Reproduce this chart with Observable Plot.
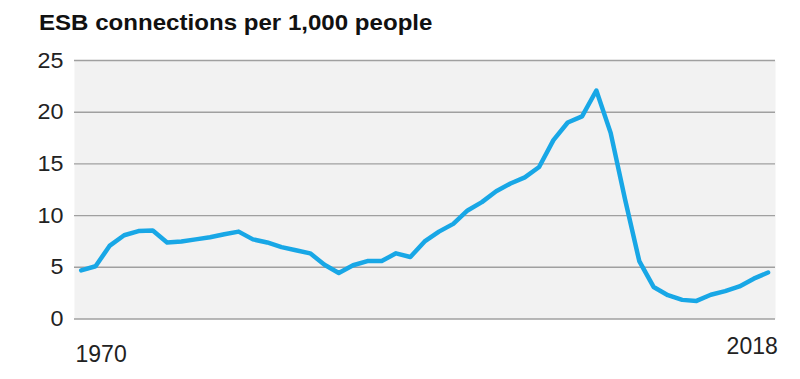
<!DOCTYPE html>
<html>
<head>
<meta charset="utf-8">
<script src="https://cdn.jsdelivr.net/npm/d3@7"></script>
<script src="https://cdn.jsdelivr.net/npm/@observablehq/plot@0.6"></script>
<style>
  html, body { margin: 0; padding: 0; background: #fff; }
  body { width: 800px; height: 379px; overflow: hidden; font-family: "Liberation Sans", Arial, sans-serif; }
  #title { height: 40px; box-sizing: border-box; padding-top: 13px; padding-left: 39px; line-height: 21px; }
  #title span { display: inline-block; font-weight: bold; font-size: 21.5px; color: #111; transform: scaleX(1.12); transform-origin: 0 0; white-space: nowrap; }
</style>
</head>
<body>
<div id="title"><span>ESB connections per 1,000 people</span></div>
<div id="chart"></div>
<script>
const years = [1970,1971,1972,1973,1974,1975,1976,1977,1978,1979,
               1980,1981,1982,1983,1984,1985,1986,1987,1988,1989,
               1990,1991,1992,1993,1994,1995,1996,1997,1998,1999,
               2000,2001,2002,2003,2004,2005,2006,2007,2008,2009,
               2010,2011,2012,2013,2014,2015,2016,2017,2018];
const connections = [4.7,5.1,7.1,8.1,8.5,8.55,7.4,7.5,7.7,7.9,
                     8.2,8.45,7.7,7.4,6.95,6.65,6.35,5.25,4.45,5.2,
                     5.6,5.6,6.35,6.0,7.5,8.45,9.2,10.5,11.3,12.35,
                     13.1,13.7,14.7,17.3,19.0,19.6,22.1,18.0,11.6,5.6,
                     3.1,2.3,1.85,1.75,2.35,2.7,3.15,3.9,4.5];
const yTicks = [0,5,10,15,20,25];
const firstLabel = [1970];
const lastLabel = [2018];

const data = years.map((y, i) => ({year: y, value: connections[i]}));

const chart = Plot.plot({
  width: 800,
  height: 339,
  marginTop: 20,
  marginBottom: 60.5,
  marginLeft: 74,
  marginRight: 25,
  style: {fontFamily: '"Liberation Sans", Arial, sans-serif', fontSize: "22px", color: "#222", background: "#fff"},
  x: {domain: [1969.53, 2018.52], axis: null},
  y: {domain: [0, 25], axis: null},
  marks: [
    Plot.frame({fill: "#f2f2f2", stroke: null}),
    Plot.gridY(yTicks, {stroke: "#a0a0a0", strokeOpacity: 1, strokeWidth: 1.4}),
    Plot.axisY(yTicks, {tickSize: 0, tickPadding: 11, label: null, fontSize: 22, fill: "#222"}),
    Plot.text(firstLabel, {x: d => d, frameAnchor: "bottom", textAnchor: "start", lineAnchor: "top", dy: 26.5, dx: -5.7, text: d => String(d), fontSize: 23, fill: "#222"}),
    Plot.text(lastLabel, {x: d => d, frameAnchor: "bottom", textAnchor: "end", lineAnchor: "top", dy: 18.5, dx: 9.7, text: d => String(d), fontSize: 23, fill: "#222"}),
    Plot.line(data, {x: "year", y: "value", stroke: "#18a7e6", strokeWidth: 4.5, strokeLinejoin: "round", strokeLinecap: "round"})
  ]
});
document.getElementById("chart").appendChild(chart);
// slight horizontal stretch of the y tick labels, as in the reference
chart.querySelectorAll('g[aria-label="y-axis tick label"] text').forEach(t => {
  const tr = t.getAttribute("transform") || "";
  t.setAttribute("transform", tr + " scale(1.06,1)");
});
</script>
</body>
</html>
